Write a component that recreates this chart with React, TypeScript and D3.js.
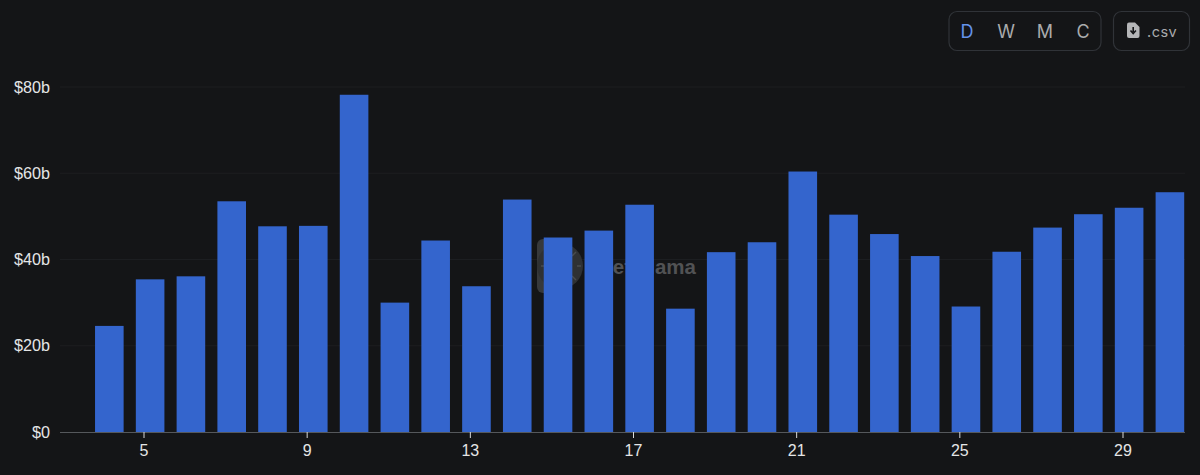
import React from "react";
import * as d3 from "d3";

const firstDay = 4;
const barValues = [24.6, 35.4, 36.1, 53.5, 47.7, 47.8, 78.2, 30, 44.4, 33.8, 53.9, 45.1, 46.7, 52.7, 28.6, 41.7, 44, 60.4, 50.4, 45.9, 40.8, 29.1, 41.8, 47.4, 50.5, 52, 55.6];
const yTicks = [0, 20, 40, 60, 80];
const xTicks = [5, 9, 13, 17, 21, 25, 29];
const intervals = ["D", "W", "M", "C"];
const intervalX = [967, 1006, 1045, 1083];

const W = 1200, H = 475;
const x = d3.scaleLinear().domain([5, 29]).range([144, 1123]);
const y = d3.scaleLinear().domain([0, 80]).range([432, 87]);
const barOffset = 0.15;
const barW = 28.6;
const font = "'Liberation Sans', Arial, sans-serif";
const bg = "#141517";

export default function App() {
  return (
    <svg width={W} height={H} viewBox={`0 0 ${W} ${H}`} style={{ position: "fixed", left: 0, top: 0, background: bg, display: "block" }}>
      {yTicks.filter(t => t > 0).map(t => (
        <line key={t} x1={60} x2={1185} y1={y(t)} y2={y(t)} stroke="#1c1e21" strokeWidth={1} />
      ))}
      <g>
        <rect x={537} y={239} width={30} height={54} rx={6} fill="#37393b" />
        <circle cx={560} cy={266} r={23} fill="#2f3133" />
        <g stroke="#4a4c4e" strokeWidth={1.5}>
          <line x1={572} y1={256} x2={576} y2={252} />
          <line x1={572} y1={276} x2={576} y2={280} />
          <line x1={577} y1={266} x2={581} y2={266} />
          <line x1={541} y1={266} x2={545} y2={266} />
        </g>
        <text x={598} y={273.5} fontFamily={font} fontWeight={700} fontSize={20.5} fill="#515254">DefiLlama</text>
      </g>
      {barValues.map((v, i) => {
        const cx = x(firstDay + i + barOffset);
        return <rect key={i} x={cx - barW / 2} y={y(v)} width={barW} height={y(0) - y(v)} fill="#3465cd" />;
      })}
      <line x1={60} x2={1185} y1={y(0) + 0.5} y2={y(0) + 0.5} stroke="#55585c" strokeWidth={1} />
      {xTicks.map(t => (
        <g key={t}>
          <line x1={x(t)} x2={x(t)} y1={432} y2={438} stroke="#d8d9da" strokeWidth={1} />
          <text x={x(t)} y={456} textAnchor="middle" fontFamily={font} fontSize={16} fill="#e4e5e6">{t}</text>
        </g>
      ))}
      {yTicks.map(t => (
        <text key={t} x={50} y={y(t) + 5.5} textAnchor="end" fontFamily={font} fontSize={16.2} fill="#e4e5e6">{`$${t}${t ? "b" : ""}`}</text>
      ))}
      <rect x={949} y={11.5} width={152} height={39} rx={8} fill="none" stroke="#303338" strokeWidth={1.2} />
      {intervals.map((s, i) => (
        <text key={s} x={intervalX[i]} y={38} textAnchor="middle" fontFamily="Inter, sans-serif" fontSize={18} fill={i === 0 ? "#6493ea" : "#a9abad"}>{s}</text>
      ))}
      <rect x={1113.5} y={11.5} width={76} height={39} rx={8} fill="none" stroke="#303338" strokeWidth={1.2} />
      <path d="M1127 24.5 a2 2 0 0 1 2-2 h6 l4.5 4.5 v9 a2 2 0 0 1-2 2 h-8.5 a2 2 0 0 1-2-2 z" fill="#b5b6b8" />
      <path d="M1133.2 27 v5 M1130.5 30.5 l2.7 3 l2.7-3" stroke={bg} strokeWidth={1.6} fill="none" />
      <text x={1147} y={37} fontFamily="Inter, sans-serif" fontSize={14.5} letterSpacing={0.5} fill="#a9abad">.csv</text>
    </svg>
  );
}
